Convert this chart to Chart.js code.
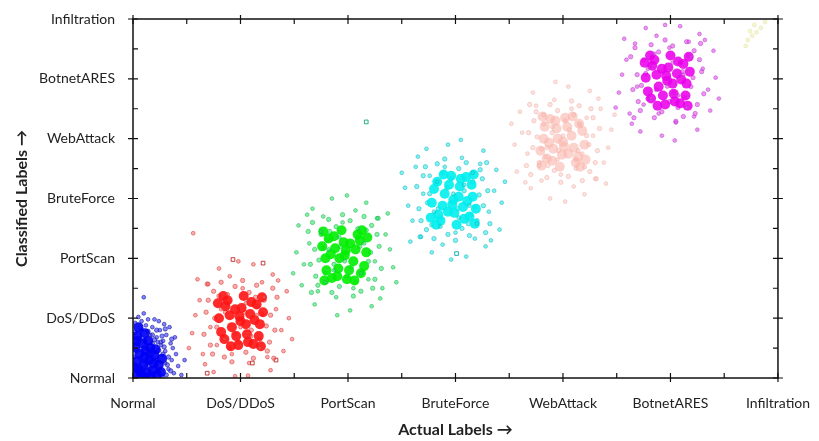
<!DOCTYPE html>
<html>
<head>
<meta charset="utf-8">
<script src="https://cdn.jsdelivr.net/npm/chart.js@4.4.0/dist/chart.umd.min.js"></script>
<style>
  html, body { margin: 0; padding: 0; background: #fff; }
  #wrap { width: 819px; height: 441px; }
</style>
</head>
<body>
<div id="wrap"><canvas id="myChart"></canvas></div>
<script>
const labels = ["Normal", "DoS/DDoS", "PortScan", "BruteForce", "WebAttack", "BotnetARES", "Infiltration"];

// [actual, classified] pairs
const normalCore = [[0.02,0.05],[0.05,0.15],[0.08,0.04],[0.03,0.28],[0.10,0.22],[0.13,0.08],[0.06,0.40],[0.15,0.30],[0.18,0.12],[0.02,0.52],[0.09,0.58],[0.12,0.45],[0.20,0.38],[0.22,0.05],[0.16,0.50],[0.04,0.70],[0.24,0.22],[0.07,0.10],[0.11,0.35],[0.01,0.18],[0.19,0.25],[0.14,0.62],[0.26,0.10],[0.05,0.85],[0.09,0.02],[0.21,0.48],[0.03,0.62],[0.17,0.02],[0.27,0.32],[0.11,0.75]];
const normalMid = [[0.04,0.12],[0.07,0.33],[0.12,0.18],[0.15,0.42],[0.19,0.07],[0.22,0.30],[0.25,0.14],[0.28,0.40],[0.31,0.05],[0.03,0.45],[0.06,0.66],[0.10,0.50],[0.14,0.78],[0.18,0.58],[0.21,0.20],[0.24,0.46],[0.27,0.70],[0.32,0.22],[0.35,0.12],[0.01,0.35],[0.08,0.80],[0.13,0.25],[0.17,0.38],[0.20,0.64],[0.23,0.12],[0.29,0.52],[0.33,0.35],[0.02,0.76],[0.11,0.62],[0.16,0.16],[0.26,0.60],[0.30,0.82],[0.07,0.48],[0.12,0.05],[0.18,0.72],[0.04,0.58],[0.22,0.80],[0.36,0.65],[0.09,0.28],[0.27,0.03]];
const normalHalo = [[0.30,0.45],[0.33,0.15],[0.28,0.62],[0.36,0.30],[0.25,0.80],[0.18,0.85],[0.08,0.95],[0.22,0.68],[0.38,0.08],[0.31,0.72],[0.14,0.98],[0.02,0.92],[0.40,0.40],[0.35,0.58],[0.29,0.90],[0.20,0.98],[0.42,0.20],[0.26,0.55],[0.45,0.05],[0.12,0.88],[0.34,0.85],[0.24,0.95],[0.37,0.50],[0.16,0.72],[0.30,0.25],[0.05,1.02],[0.48,0.30],[0.23,0.60],[0.39,0.68],[0.10,1.08],[0.10,1.35]];

const dosCore = [[0.80,1.00],[0.85,0.65],[0.88,1.30],[0.92,0.85],[0.95,1.15],[0.98,0.55],[1.00,0.95],[1.03,1.37],[1.06,0.73],[1.09,1.07],[1.12,0.57],[1.15,1.23],[1.18,0.90],[1.21,1.10],[0.82,0.77],[0.90,1.05],[1.05,0.90],[1.10,1.27],[0.86,1.20],[1.17,0.70],[0.96,0.70],[1.01,1.17],[0.79,1.25],[1.20,1.35],[0.91,0.53],[1.13,0.97],[0.84,1.37],[1.07,0.60],[0.99,1.03],[1.19,0.53]];
const dosMid = [[0.68,1.10],[0.72,0.55],[0.75,1.45],[0.78,0.85],[0.82,1.60],[0.85,0.35],[0.88,1.25],[0.92,0.27],[0.95,1.53],[0.98,0.60],[1.02,1.63],[1.05,0.43],[1.08,1.43],[1.12,0.33],[1.15,1.55],[1.18,0.65],[1.22,1.30],[1.25,0.45],[1.28,1.05],[1.32,0.80],[1.34,1.35],[0.66,0.73],[1.30,1.50],[0.70,1.30],[1.27,0.60],[0.74,0.40],[1.20,1.07],[0.80,1.37],[1.24,0.87],[0.76,1.00],[1.10,0.80],[0.90,0.50],[1.16,1.20],[0.86,1.10],[1.04,1.10],[0.94,0.75],[1.31,0.33],[0.69,1.57],[1.14,1.35],[0.84,0.67]];
const dosHalo = [[0.58,1.05],[0.65,0.40],[0.70,1.57],[0.75,0.10],[0.80,1.83],[0.62,1.30],[0.85,0.65],[0.90,1.70],[0.95,0.03],[1.02,1.50],[1.08,0.25],[1.12,1.90],[1.18,0.50],[1.22,1.35],[1.28,0.13],[1.33,1.15],[1.38,0.80],[1.43,1.45],[1.30,1.73],[0.55,0.75],[1.25,0.35],[0.72,0.85],[1.05,1.25],[0.88,1.40],[1.15,1.05],[0.67,0.23],[1.40,0.45],[0.92,0.40],[1.35,1.63],[0.82,1.15],[1.10,0.70],[0.60,1.65],[1.45,1.00],[0.78,0.55],[1.20,1.60],[1.00,0.85],[0.52,0.50],[1.48,0.65],[0.98,1.95],[1.07,0.04],[0.56,2.42]];
const dosOdd = [[0.93,1.98],[1.21,1.92],[1.11,0.25],[1.33,0.30],[0.69,0.08]];

const portCore = [[2.17,2.10],[2.12,1.75],[2.09,2.40],[2.05,1.95],[2.02,2.25],[1.99,1.65],[1.97,2.05],[1.94,2.47],[1.91,1.83],[1.88,2.17],[1.85,1.67],[1.82,2.33],[1.79,2.00],[1.76,2.20],[2.15,1.87],[2.07,2.15],[1.92,2.00],[1.87,2.37],[2.11,2.30],[1.80,1.80],[2.01,1.80],[1.96,2.27],[2.18,2.35],[1.77,2.45],[2.06,1.63],[1.84,2.07],[2.13,2.47],[1.90,1.70],[1.98,2.13],[1.78,1.63]];
const portMid = [[2.29,2.20],[2.25,1.65],[2.22,2.55],[2.19,1.95],[2.15,2.70],[2.12,1.45],[2.09,2.35],[2.05,1.37],[2.02,2.63],[1.99,1.70],[1.95,2.73],[1.92,1.53],[1.89,2.53],[1.85,1.43],[1.82,2.65],[1.79,1.75],[1.75,2.40],[1.72,1.55],[1.69,2.15],[1.65,1.90],[1.63,2.45],[2.31,1.83],[1.67,2.60],[2.27,2.40],[1.70,1.70],[2.23,1.50],[1.77,2.17],[2.17,2.47],[1.73,1.97],[2.21,2.10],[1.87,1.90],[2.07,1.60],[1.81,2.30],[2.11,2.20],[1.93,2.20],[2.03,1.85],[1.66,1.43],[2.28,2.67],[1.83,2.45],[2.13,1.77]];
const portHalo = [[2.39,2.15],[2.32,1.50],[2.27,2.67],[2.22,1.20],[2.17,2.93],[2.35,2.40],[2.12,1.75],[2.07,2.80],[2.02,1.13],[1.95,2.60],[1.89,1.35],[1.85,3.00],[1.79,1.60],[1.75,2.45],[1.69,1.23],[1.64,2.25],[1.59,1.90],[1.54,2.55],[1.67,2.83],[2.42,1.85],[1.72,1.45],[2.25,1.95],[1.92,2.35],[2.09,2.50],[1.82,2.15],[2.30,1.33],[1.57,1.55],[2.05,1.50],[1.62,2.73],[2.15,2.25],[1.87,1.80],[2.37,2.75],[1.52,2.10],[2.19,1.65],[1.77,2.70],[1.97,1.95],[2.45,1.60],[1.49,1.75],[1.99,3.05],[1.90,1.05]];
const portOdd = [[2.17,4.28]];

const bruteCore = [[2.78,2.93],[2.83,3.28],[2.86,2.63],[2.90,3.08],[2.93,2.78],[2.96,3.38],[2.98,2.98],[3.01,2.56],[3.04,3.20],[3.07,2.86],[3.10,3.36],[3.13,2.70],[3.16,3.03],[3.19,2.83],[2.80,3.16],[2.88,2.88],[3.03,3.03],[3.08,2.66],[2.84,2.73],[3.15,3.23],[2.94,3.23],[2.99,2.76],[2.77,2.68],[3.18,2.58],[2.89,3.40],[3.11,2.96],[2.82,2.56],[3.05,3.33],[2.97,2.90],[3.17,3.40]];
const bruteMid = [[2.66,2.83],[2.70,3.38],[2.73,2.48],[2.76,3.08],[2.80,2.33],[2.83,3.58],[2.86,2.68],[2.90,3.66],[2.93,2.40],[2.96,3.33],[3.00,2.30],[3.03,3.50],[3.06,2.50],[3.10,3.60],[3.13,2.38],[3.16,3.28],[3.20,2.63],[3.23,3.48],[3.26,2.88],[3.30,3.13],[3.32,2.58],[2.64,3.20],[3.28,2.43],[2.68,2.63],[3.25,3.33],[2.72,3.53],[3.18,2.86],[2.78,2.56],[3.22,3.06],[2.74,2.93],[3.08,3.13],[2.88,3.43],[3.14,2.73],[2.84,2.83],[3.02,2.83],[2.92,3.18],[3.29,3.60],[2.67,2.36],[3.12,2.58],[2.82,3.26]];
const bruteHalo = [[2.56,2.88],[2.63,3.53],[2.68,2.36],[2.73,3.83],[2.78,2.10],[2.60,2.63],[2.83,3.28],[2.88,2.23],[2.93,3.90],[3.00,2.43],[3.06,3.68],[3.10,2.03],[3.16,3.43],[3.20,2.58],[3.26,3.80],[3.31,2.78],[3.36,3.13],[3.41,2.48],[3.28,2.20],[2.53,3.18],[3.23,3.58],[2.70,3.08],[3.03,2.68],[2.86,2.53],[3.13,2.88],[2.65,3.70],[3.38,3.48],[2.90,3.53],[3.33,2.30],[2.80,2.78],[3.08,3.23],[2.58,2.28],[3.43,2.93],[2.76,3.38],[3.18,2.33],[2.98,3.08],[2.50,3.43],[3.46,3.28],[2.96,1.98],[3.05,3.98]];
const bruteOdd = [[3.01,2.08]];

const webCore = [[4.20,3.90],[4.15,4.25],[4.12,3.60],[4.08,4.05],[4.05,3.75],[4.02,4.35],[4.00,3.95],[3.97,3.53],[3.94,4.17],[3.91,3.83],[3.88,4.33],[3.85,3.67],[3.82,4.00],[3.79,3.80],[4.18,4.13],[4.10,3.85],[3.95,4.00],[3.90,3.63],[4.14,3.70],[3.83,4.20],[4.04,4.20],[3.99,3.73],[4.21,3.65],[3.80,3.55],[4.09,4.37],[3.87,3.93],[4.16,3.53],[3.93,4.30],[4.01,3.87],[3.81,4.37]];
const webMid = [[4.32,3.80],[4.28,4.35],[4.25,3.45],[4.22,4.05],[4.18,3.30],[4.15,4.55],[4.12,3.65],[4.08,4.63],[4.05,3.37],[4.02,4.30],[3.98,3.27],[3.95,4.47],[3.92,3.47],[3.88,4.57],[3.85,3.35],[3.82,4.25],[3.78,3.60],[3.75,4.45],[3.72,3.85],[3.68,4.10],[3.66,3.55],[4.34,4.17],[3.70,3.40],[4.30,3.60],[3.73,4.30],[4.26,4.50],[3.80,3.83],[4.20,3.53],[3.76,4.03],[4.24,3.90],[3.90,4.10],[4.10,4.40],[3.84,3.70],[4.14,3.80],[3.96,3.80],[4.06,4.15],[3.69,4.57],[4.31,3.33],[3.86,3.55],[4.16,4.23]];
const webHalo = [[4.42,3.85],[4.35,4.50],[4.30,3.33],[4.25,4.80],[4.20,3.07],[4.38,3.60],[4.15,4.25],[4.10,3.20],[4.05,4.87],[3.98,3.40],[3.92,4.65],[3.88,3.00],[3.82,4.40],[3.78,3.55],[3.72,4.77],[3.67,3.75],[3.62,4.10],[3.57,3.45],[3.70,3.17],[4.45,4.15],[3.75,4.55],[4.28,4.05],[3.95,3.65],[4.12,3.50],[3.85,3.85],[4.33,4.67],[3.60,4.45],[4.08,4.50],[3.65,3.27],[4.18,3.75],[3.90,4.20],[4.40,3.25],[3.55,3.90],[4.22,4.35],[3.80,3.30],[4.00,4.05],[4.48,4.40],[3.52,4.25],[4.02,2.95],[3.93,4.95]];

const botCore = [[4.77,5.02],[4.82,4.67],[4.85,5.32],[4.89,4.87],[4.92,5.17],[4.95,4.57],[4.97,4.97],[5.00,5.39],[5.03,4.75],[5.06,5.09],[5.09,4.59],[5.12,5.25],[5.15,4.92],[5.18,5.12],[4.79,4.79],[4.87,5.07],[5.02,4.92],[5.07,5.29],[4.83,5.22],[5.14,4.72],[4.93,4.72],[4.98,5.19],[4.76,5.27],[5.17,5.37],[4.88,4.55],[5.10,4.99],[4.81,5.39],[5.04,4.62],[4.96,5.05],[5.16,4.55]];
const botMid = [[5.29,5.12],[5.25,4.57],[5.22,5.47],[5.19,4.87],[5.15,5.62],[5.12,4.37],[5.09,5.27],[5.05,4.29],[5.02,5.55],[4.99,4.62],[4.95,5.65],[4.92,4.45],[4.89,5.45],[4.85,4.35],[4.82,5.57],[4.79,4.67],[4.75,5.32],[4.72,4.47],[4.69,5.07],[4.65,4.82],[4.63,5.37],[5.31,4.75],[4.67,5.52],[5.27,5.32],[4.70,4.62],[5.23,4.42],[4.77,5.09],[5.17,5.39],[4.73,4.89],[5.21,5.02],[4.87,4.82],[5.07,4.52],[4.81,5.22],[5.11,5.12],[4.93,5.12],[5.03,4.77],[4.66,4.35],[5.28,5.59],[4.83,5.37],[5.13,4.69]];
const botHalo = [[4.55,5.07],[4.62,4.42],[4.67,5.59],[4.72,4.12],[4.77,5.85],[4.59,5.32],[4.82,4.67],[4.87,5.72],[4.92,4.05],[4.99,5.52],[5.05,4.27],[5.09,5.88],[5.15,4.52],[5.19,5.37],[5.25,4.15],[5.30,5.17],[5.35,4.82],[5.40,5.47],[5.27,5.75],[4.52,4.77],[5.22,4.37],[4.69,4.87],[5.02,5.27],[4.85,5.42],[5.12,5.07],[4.64,4.25],[5.37,4.47],[4.89,4.42],[5.32,5.65],[4.79,5.17],[5.07,4.72],[4.57,5.67],[5.42,5.02],[4.75,4.57],[5.17,5.62],[4.97,4.87],[4.49,4.52],[5.45,4.67],[4.95,5.90],[5.04,3.97]];

const infilPts = [[5.72,5.65],[5.76,5.72],[5.80,5.78],[5.84,5.85],[5.78,5.90],[5.70,5.55],[5.88,5.95],[5.74,5.80]];

const ctx = document.getElementById("myChart").getContext("2d");
const FONT = "Lato, 'Liberation Sans', sans-serif";

function pts(arr) {
  return arr.map(([x, y]) => ({ x, y }));
}

function cloud(arr, fill, border, radius, bw) {
  return {
    data: pts(arr),
    backgroundColor: fill,
    borderColor: border,
    borderWidth: bw,
    pointRadius: radius,
    pointHoverRadius: radius,
  };
}

function squares(arr, border) {
  return {
    data: pts(arr),
    pointStyle: "rect",
    backgroundColor: "rgba(255,255,255,0)",
    borderColor: border,
    borderWidth: 1,
    pointRadius: 2.6,
  };
}

// a cluster = halo (small dots), dense core blob, then speckles on top
function cluster(core, mid, halo, c) {
  return [
    cloud(halo, c.halo, c.edge, 1.9, 0.8),
    cloud(core, c.core, c.core, 5, 0),
    cloud(mid, c.halo, c.edge, 2.2, 0.8),
  ];
}

// box frame with inward minor ticks and crossing major ticks
const frameTicks = {
  id: "frameTicks",
  afterDraw(chart) {
    const { ctx, chartArea: a, scales: { x, y } } = chart;
    ctx.save();
    ctx.strokeStyle = "#111";
    ctx.lineWidth = 1.5;
    ctx.strokeRect(a.left, a.top, a.right - a.left, a.bottom - a.top);
    ctx.lineWidth = 1.2;
    ctx.beginPath();
    x.ticks.forEach((t) => {
      const px = x.getPixelForValue(t.value);
      const out = Number.isInteger(t.value) ? 4 : 0;
      ctx.moveTo(px, a.bottom + out);
      ctx.lineTo(px, a.bottom - 5);
      ctx.moveTo(px, a.top - out);
      ctx.lineTo(px, a.top + 5);
    });
    y.ticks.forEach((t) => {
      const py = y.getPixelForValue(t.value);
      const out = Number.isInteger(t.value) ? 5 : 0;
      ctx.moveTo(a.left - out, py);
      ctx.lineTo(a.left + 5, py);
      ctx.moveTo(a.right + out, py);
      ctx.lineTo(a.right - 5, py);
    });
    ctx.stroke();
    ctx.restore();
  },
};

const tickLabel = (v) => (Number.isInteger(v) ? labels[v] : "");

new Chart(ctx, {
  type: "scatter",
  data: {
    datasets: [
      ...cluster(normalCore, normalMid, normalHalo, { halo: "rgba(50,50,255,0.6)", edge: "rgba(20,20,150,0.7)", core: "rgba(0,0,245,0.92)" }),
      ...cluster(dosCore, dosMid, dosHalo, { halo: "rgba(255,90,90,0.5)", edge: "rgba(200,40,40,0.6)", core: "rgba(255,20,20,0.9)" }),
      squares(dosOdd, "rgba(190,40,40,0.9)"),
      ...cluster(portCore, portMid, portHalo, { halo: "rgba(30,230,80,0.55)", edge: "rgba(20,170,90,0.6)", core: "rgba(0,238,0,0.9)" }),
      squares(portOdd, "rgba(20,170,120,0.9)"),
      ...cluster(bruteCore, bruteMid, bruteHalo, { halo: "rgba(30,230,230,0.55)", edge: "rgba(0,175,185,0.6)", core: "rgba(0,238,238,0.9)" }),
      squares(bruteOdd, "rgba(0,170,170,0.9)"),
      ...cluster(webCore, webMid, webHalo, { halo: "rgba(250,190,185,0.45)", edge: "rgba(230,160,150,0.5)", core: "rgba(250,180,170,0.6)" }),
      ...cluster(botCore, botMid, botHalo, { halo: "rgba(230,60,230,0.55)", edge: "rgba(170,60,200,0.6)", core: "rgba(235,0,235,0.88)" }),
      cloud(infilPts, "rgba(235,235,170,0.5)", "rgba(220,220,150,0.5)", 2, 0.8),
    ],
  },
  options: {
    responsive: true,
    maintainAspectRatio: false,
    animation: false,
    layout: { padding: { left: 0, right: 38, top: 19, bottom: 0 } },
    plugins: {
      legend: { display: false },
      tooltip: { enabled: false },
    },
    scales: {
      x: {
        type: "linear",
        min: 0,
        max: 6,
        grid: { display: false },
        border: { display: false },
        ticks: {
          stepSize: 0.5,
          autoSkip: false,
          maxRotation: 0,
          padding: 9,
          color: "#222",
          font: { family: FONT, size: 14 },
          callback: tickLabel,
        },
        title: {
          display: true,
          text: "Actual Labels →",
          color: "#222",
          font: { family: FONT, size: 16, weight: "bold" },
          padding: { top: 4, bottom: 2 },
        },
        afterFit(scale) {
          scale.height = 63;
        },
      },
      y: {
        type: "linear",
        min: 0,
        max: 6,
        grid: { display: false },
        border: { display: false },
        ticks: {
          stepSize: 0.5,
          autoSkip: false,
          padding: 10,
          color: "#222",
          font: { family: FONT, size: 14 },
          callback: tickLabel,
        },
        title: {
          display: true,
          text: "Classified Labels →",
          color: "#222",
          font: { family: FONT, size: 16, weight: "bold" },
          padding: { top: 12, bottom: 0 },
        },
        afterFit(scale) {
          scale.width = 133;
        },
      },
    },
  },
  plugins: [frameTicks],
});
</script>
</body>
</html>
